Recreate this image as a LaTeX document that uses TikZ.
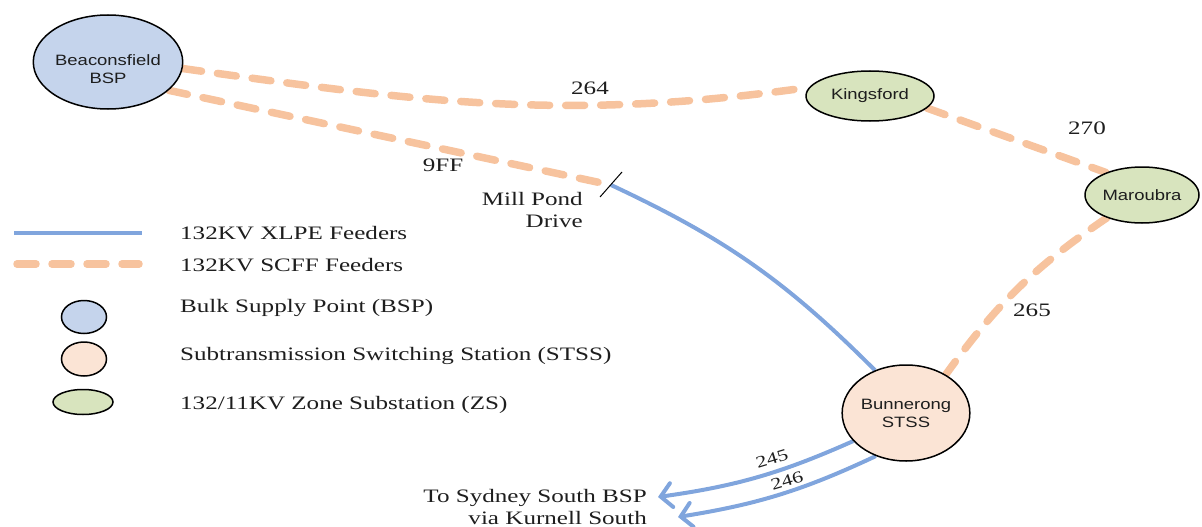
\documentclass[tikz,border=0pt]{standalone}
\usepackage{fontspec}
\setmainfont{Liberation Serif}[FakeStretch=1.32]
\newfontfamily\labsans{Liberation Sans}[FakeStretch=1.23]
\usetikzlibrary{shapes.geometric,arrows.meta,calc,backgrounds}
\definecolor{bspfill}{RGB}{197,212,236}
\definecolor{stssfill}{RGB}{251,228,213}
\definecolor{zsfill}{RGB}{216,228,190}
\definecolor{xlpe}{RGB}{128,165,221}
\definecolor{scff}{RGB}{247,195,158}
\definecolor{txt}{RGB}{30,30,30}
\begin{document}
\begin{tikzpicture}[x=1pt,y=1pt,
  station/.style={ellipse, draw=black, line width=1.5pt, inner sep=0pt,
    font=\labsans\fontsize{15}{18}\selectfont, text=txt, align=center},
  bsp/.style={station, fill=bspfill},
  stss/.style={station, fill=stssfill},
  zs/.style={station, fill=zsfill},
  xlpeline/.style={draw=xlpe, line width=4pt},
  scffline/.style={draw=scff, line width=7.5pt, line cap=round, dash pattern=on 19pt off 16pt},
  lbl/.style={font=\fontsize{19}{22}\selectfont, text=txt, inner sep=0pt},
  smalllbl/.style={lbl, font=\fontsize{16.5}{19}\selectfont},
  arr/.style={xlpeline, -{Straight Barb[length=11pt,width=24pt,line cap=round]}},
]
\useasboundingbox (0,0) rectangle (1202,-527);

% stations
\node[bsp, minimum width=116pt, minimum height=94pt, text height=45pt, text depth=2pt] (B) at (108,-62) {Beaconsfield\\BSP};
\node[zs, minimum width=128pt, minimum height=50pt] (K) at (870,-96) {Kingsford};
\node[zs, minimum width=114pt, minimum height=56pt] (M) at (1142,-195) {Maroubra};
\node[stss, minimum width=106pt, minimum height=96pt] (S) at (906,-413) {Bunnerong\\STSS};
\coordinate (mp) at (611,-185);

% feeders
\begin{scope}[on background layer]
\draw[scffline] (B.-5) to[out=-8, in=188] (K.172);
\draw[scffline] (B.-25) -- (mp);
\draw[scffline] (K.-12) -- (M.148);
\draw[scffline] (M.213) to[bend right=10] (S.44);
\draw[xlpeline] (mp) to[bend left=10] (S.126);
\coordinate (t1) at (658,-497);
\coordinate (t2) at (678,-517);
\draw[arr] (S.208) to[bend left=8] (t1);
\draw[arr] (S.235) to[bend left=8] (t2);
\end{scope}
\draw[line width=1pt, black] ($(mp)+(-11,-12)$) -- ($(mp)+(11,13)$);

% labels
\node[lbl] (l264) at (590,-88) {264};
\node[lbl] (l9ff) at (443,-165) {9FF};
\node[lbl, align=right, anchor=east] (lmp) at (583,-210) {Mill Pond\\Drive};
\node[lbl] (l270) at (1087,-128) {270};
\node[lbl] (l265) at (1032,-310) {265};
\node[smalllbl, rotate=17] (l245) at (772,-459) {245};
\node[smalllbl, rotate=17] (l246) at (787,-481) {246};
\node[lbl, align=right, anchor=east] (lsyd) at (647,-507) {To Sydney South BSP\\via Kurnell South};

% legend
\coordinate (xa) at (14,-233);
\coordinate (xb) at (142,-233);
\draw[xlpeline] (xa) -- (xb);
\coordinate (sa) at (17,-264);
\coordinate (sb) at (139,-264);
\draw[scffline] (sa) -- (sb);
\node[bsp, minimum width=45pt, minimum height=33pt] (LB) at (84,-317) {};
\node[stss, minimum width=45pt, minimum height=34pt] (LS) at (84,-359) {};
\node[zs, minimum width=60pt, minimum height=25pt] (LZ) at (83,-402) {};
\node[lbl, anchor=west] (tx) at (180,-233) {132KV XLPE Feeders};
\node[lbl, anchor=west] (ts) at (180,-265) {132KV SCFF Feeders};
\node[lbl, anchor=west] (tb) at (180,-308) {Bulk Supply Point (BSP)};
\node[lbl, anchor=west] (tt) at (180,-356) {Subtransmission Switching Station (STSS)};
\node[lbl, anchor=west] (tz) at (180,-405) {132/11KV Zone Substation (ZS)};
\end{tikzpicture}
\end{document}
